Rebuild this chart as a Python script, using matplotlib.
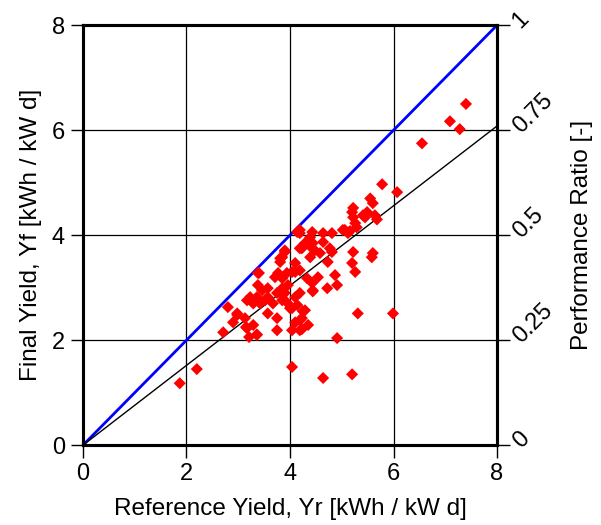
import matplotlib
matplotlib.use("Agg")
import matplotlib.pyplot as plt
import numpy as np

plt.rcParams['font.family'] = ['Liberation Sans', 'DejaVu Sans']

# Reference yield (x) and final yield (y), kWh / kW d
ref_yield = [
    1.87, 2.20, 4.04, 4.64, 5.20, 4.91, 5.31, 5.99, 5.58, 5.60, 6.07, 5.78, 6.55, 7.09, 7.28, 7.40,
    5.55, 5.60, 5.22, 5.22, 5.26, 5.29, 5.20, 5.49, 5.45, 5.64, 5.68, 5.41, 5.02, 5.12, 5.06, 5.16,
    4.81, 4.64, 4.43, 4.19, 4.39, 4.44, 4.64, 4.29, 4.19, 4.43, 4.48, 4.58, 4.39, 4.77, 4.81, 5.22,
    5.20, 5.26, 4.73, 4.72, 4.87, 4.91, 4.33, 4.43, 4.44, 4.54, 4.19, 4.10, 3.94, 3.85, 4.04, 4.29,
    4.23, 4.19, 4.35, 4.23, 4.25, 4.44, 4.19, 4.35, 4.23, 3.90, 3.85, 3.38, 4.10, 4.19,
    3.40, 3.38, 3.46, 3.57, 3.71, 3.77, 3.85, 3.94, 3.81, 4.10, 3.85, 3.96, 3.75, 3.90, 3.57, 3.36,
    3.23, 3.17, 3.29, 3.42, 3.52, 3.67, 3.85, 4.00, 4.14, 2.80, 2.98, 2.90, 3.13, 3.29, 3.57, 3.75,
    3.17, 3.36, 2.71, 3.75, 4.10, 4.04, 2.98, 3.90, 3.81, 4.04, 4.14, 3.15, 3.21, 3.36, 4.19,
]
final_yield = [
    1.18, 1.45, 1.49, 1.28, 1.35, 2.04, 2.51, 2.51, 3.58, 3.66, 4.82, 4.97, 5.75, 6.17, 6.02, 6.50,
    4.70, 4.61, 4.52, 4.34, 4.23, 4.15, 4.44, 4.44, 4.34, 4.38, 4.30, 4.38, 4.10, 4.04, 4.10, 4.08,
    4.04, 4.04, 4.06, 4.04, 3.96, 3.85, 3.87, 3.85, 3.75, 3.75, 3.71, 3.66, 3.58, 3.75, 3.68, 3.68,
    3.47, 3.30, 3.49, 2.99, 3.24, 3.05, 3.18, 3.09, 2.95, 3.20, 2.90, 2.82, 2.72, 2.86, 2.61, 2.57,
    2.42, 2.38, 2.29, 2.21, 2.55, 2.93, 4.10, 3.85, 3.75, 3.71, 3.58, 3.28, 3.47, 3.33,
    3.28, 3.05, 2.95, 2.99, 3.20, 3.28, 3.18, 3.28, 3.49, 3.30, 2.99, 3.05, 2.90, 2.90, 2.82, 2.82,
    2.82, 2.76, 2.70, 2.70, 2.76, 2.70, 2.76, 2.61, 2.67, 2.63, 2.51, 2.34, 2.42, 2.29, 2.51, 2.42,
    2.23, 2.11, 2.15, 2.19, 2.34, 2.19, 2.48, 3.68, 3.56, 3.30, 4.06, 2.25, 2.06, 2.10, 2.19,
]

axis_max = 8
pr_fit = 0.76            # slope of black reference line
ticks = [0, 2, 4, 6, 8]
pr_ticks = [0, 0.25, 0.5, 0.75, 1]
pr_labels = ['0', '0.25', '0.5', '0.75', '1']

fig = plt.figure(figsize=(6.01, 5.25), dpi=100)
ax = fig.add_axes([0.138, 0.152, 0.689, 0.80])

ax.set_xlim(0, axis_max)
ax.set_ylim(0, axis_max)
ax.set_xticks(ticks)
ax.set_yticks(ticks)
ax.grid(True, color='black', linewidth=0.9)
ax.set_axisbelow(True)

xs = np.array([0, axis_max])
ax.plot(xs, xs, color='#0000ff', linewidth=2.0, zorder=3)
ax.plot(xs, pr_fit * xs, color='black', linewidth=1.0, zorder=3)
ax.scatter(ref_yield, final_yield, marker='D', s=38, color='#ff0000',
           edgecolors='none', zorder=4)

for sp in ax.spines.values():
    sp.set_linewidth(2.2)
ax.tick_params(direction='out', length=9, width=1, labelsize=17, pad=4)

ax.set_xlabel('Reference Yield, Yr [kWh / kW d]', fontsize=17.5, labelpad=9)
ax.set_ylabel('Final Yield, Yf [kWh / kW d]', fontsize=17.5, labelpad=7)

ax2 = ax.twinx()
ax2.set_ylim(0, 1)
ax2.set_yticks(pr_ticks)
ax2.set_yticklabels(pr_labels)
ax2.tick_params(direction='out', length=9, width=1, labelsize=17, pad=5)
for lbl in ax2.get_yticklabels():
    lbl.set_rotation(45)
    lbl.set_rotation_mode('anchor')
    lbl.set_ha('left')
    lbl.set_va('center')
for sp in ax2.spines.values():
    sp.set_linewidth(2.2)
ax2.set_ylabel('Performance Ratio [-]', fontsize=17.5, labelpad=10)

fig.savefig('out.png', dpi=100)
